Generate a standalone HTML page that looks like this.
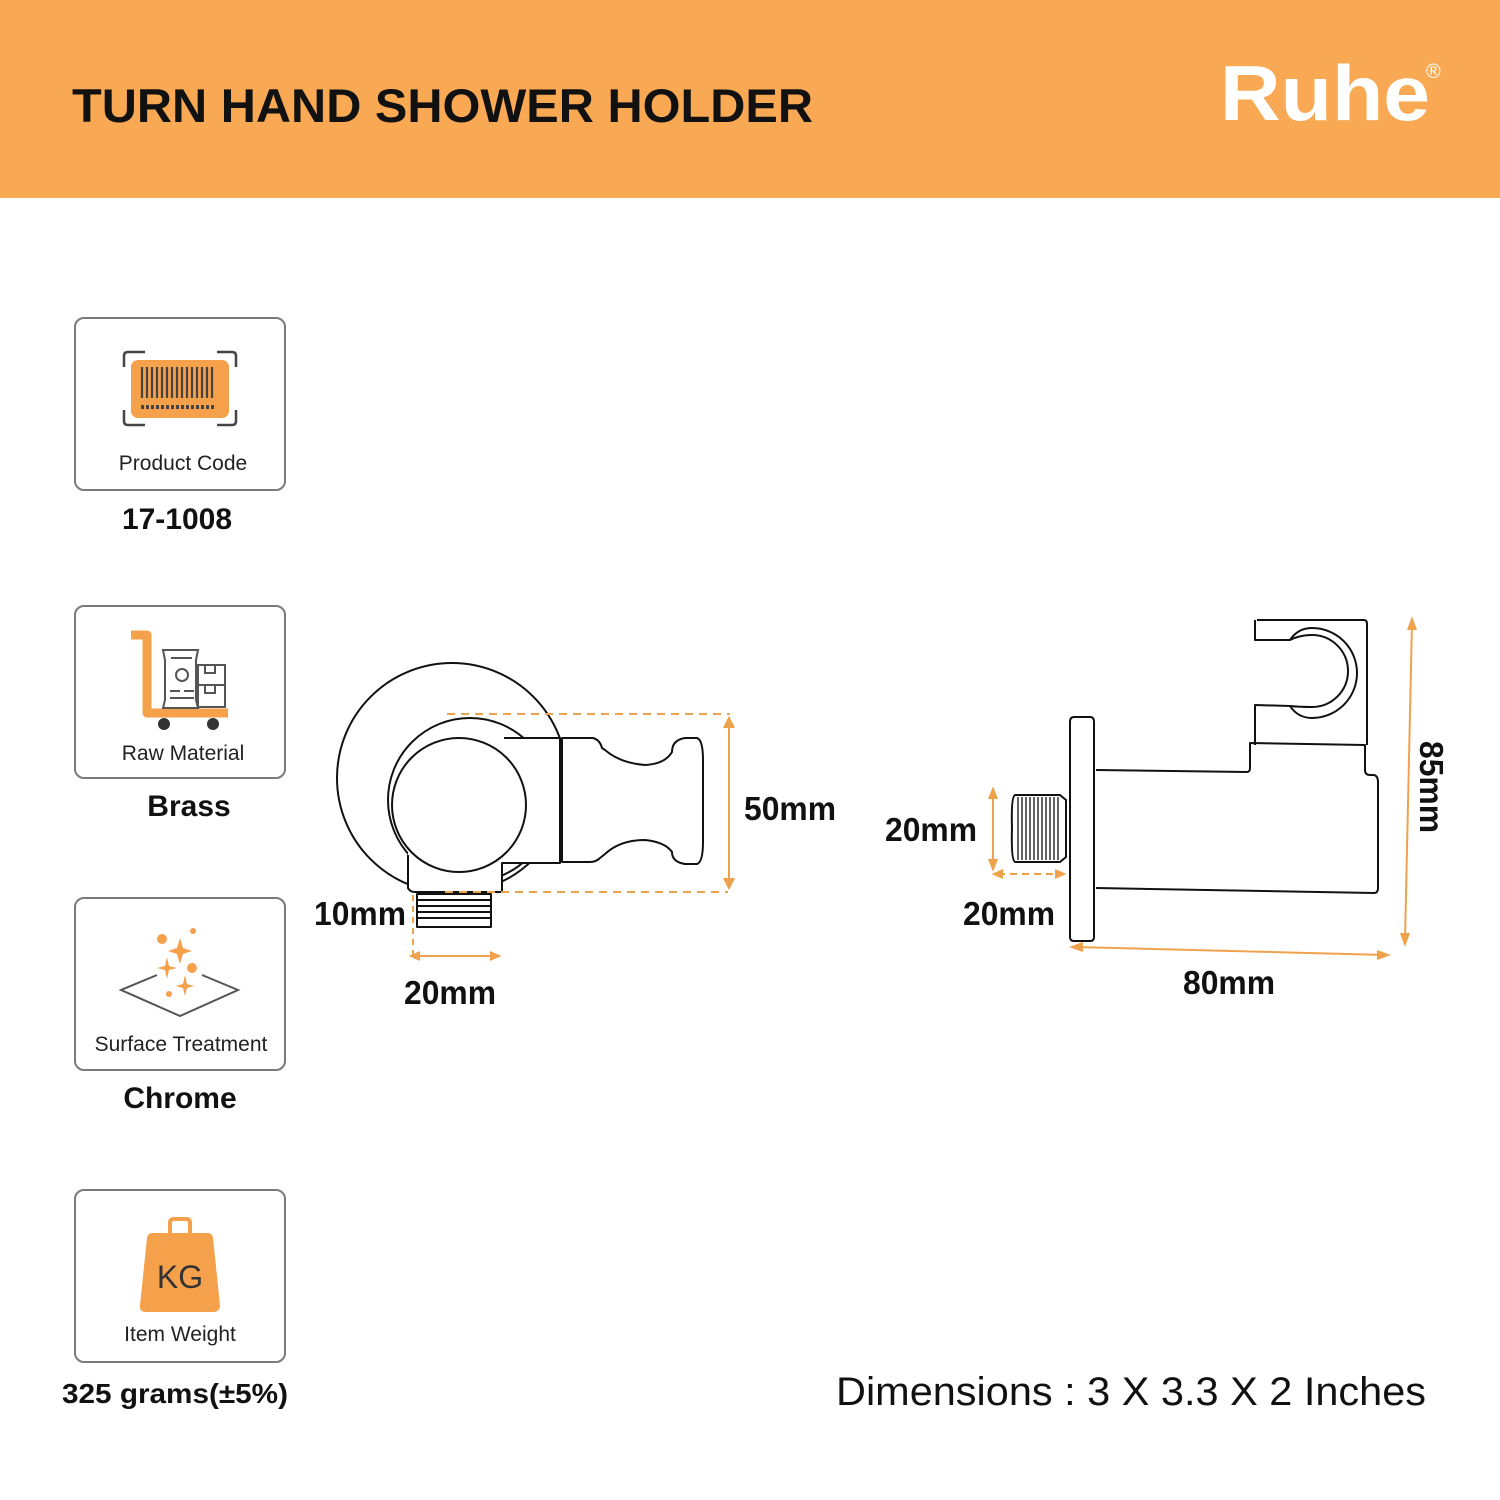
<!DOCTYPE html>
<html><head><meta charset="utf-8"><style>html,body{margin:0;padding:0;background:#fff}svg{display:block}</style></head>
<body>
<svg width="1500" height="1500" viewBox="0 0 1500 1500" xmlns="http://www.w3.org/2000/svg" font-family="'Liberation Sans', sans-serif">
<rect x="0" y="0" width="1500" height="198" fill="#F9A953"/>
<text x="72" y="122" font-size="47" font-weight="bold" fill="#111" textLength="741" lengthAdjust="spacingAndGlyphs">TURN HAND SHOWER HOLDER</text>
<text x="1220" y="120" font-size="78" font-weight="bold" fill="#fff" textLength="210" lengthAdjust="spacingAndGlyphs">Ruhe</text>
<text x="1426" y="78" font-size="20" fill="#fff">®</text>

<g fill="none" stroke="#7a7a7a" stroke-width="2">
<rect x="75" y="318" width="210" height="172" rx="9"/>
<rect x="75" y="606" width="210" height="172" rx="9"/>
<rect x="75" y="898" width="210" height="172" rx="9"/>
<rect x="75" y="1190" width="210" height="172" rx="9"/>
</g>
<g font-size="21" fill="#222" text-anchor="middle">
<text x="183" y="470">Product Code</text>
<text x="183" y="760">Raw Material</text>
<text x="181" y="1051">Surface Treatment</text>
<text x="180" y="1341">Item Weight</text>
</g>
<g font-size="30" font-weight="bold" fill="#111" text-anchor="middle">
<text x="177" y="529">17-1008</text>
<text x="189" y="816">Brass</text>
<text x="180" y="1108">Chrome</text>
<text x="175" y="1403" font-size="28" textLength="226" lengthAdjust="spacingAndGlyphs">325 grams(±5%)</text>
</g>
<rect x="131" y="360" width="98" height="58" rx="7" fill="#F5A04A"/>
<g stroke="#444" stroke-width="2.5" fill="none">
<path d="M124 367 V356 Q124 352 128 352 H145 M217 352 H232 Q236 352 236 356 V367 M124 410 V421 Q124 425 128 425 H145 M217 425 H232 Q236 425 236 421 V410"/>
<path d="M142 367V398M147 367V398M152 367V398M157 367V398M162 367V398M167 367V398M172 367V398M177 367V398M182 367V398M187 367V398M192 367V398M197 367V398M202 367V398M207 367V398M212 367V398" stroke-width="2.2"/>
<path d="M141 407H216" stroke-dasharray="3 2" stroke-width="4"/>
</g>
<path d="M131 635 H147 V713 H228" fill="none" stroke="#F5A04A" stroke-width="9" stroke-linejoin="round"/>
<circle cx="164" cy="724" r="6" fill="#333"/><circle cx="213" cy="724" r="6" fill="#333"/>
<g fill="none" stroke="#555" stroke-width="2">
<path d="M163 650 H198 L196 660 V700 L198 708 H163 L165 700 V660 Z"/>
<circle cx="182" cy="675" r="6"/><path d="M171 658H192M170 691H180M184 691H194M170 698H194"/>
<rect x="198" y="665" width="27" height="20"/><rect x="198" y="685" width="27" height="22"/>
<path d="M205 665v8h10v-8M205 685v8h10v-8"/>
</g>
<path d="M157 975 L121 990 L180 1016 L238 990 L202 975" fill="none" stroke="#555" stroke-width="2"/>
<g fill="#F5A04A">
<circle cx="162" cy="939" r="5"/><circle cx="193" cy="931" r="3"/><circle cx="192" cy="968" r="5"/><circle cx="169" cy="994" r="3"/>
<path d="M180 938 L183 948 L192 951 L183 954 L180 964 L177 954 L168 951 L177 948Z"/>
<path d="M167 957 L169 966 L177 968 L169 970 L167 979 L165 970 L157 968 L165 966Z"/>
<path d="M185 975 L187 984 L194 986 L187 988 L185 996 L183 988 L176 986 L183 984Z"/>
</g>
<path d="M170 1233 V1223 Q170 1219 174 1219 H186 Q190 1219 190 1223 V1233" fill="none" stroke="#F5A04A" stroke-width="4"/>
<path d="M152 1233 H208 Q212 1233 213 1238 L220 1305 Q220 1312 213 1312 H146 Q139 1312 140 1305 L147 1238 Q148 1233 152 1233Z" fill="#F5A04A"/>
<text x="180" y="1288" font-size="32" fill="#333" text-anchor="middle">KG</text>

<!-- left drawing -->
<g fill="#fff" stroke="#111" stroke-width="2" stroke-linejoin="round">
<circle cx="452" cy="778" r="115"/>
<circle cx="470" cy="800" r="82"/>
<path d="M408 855 V888 Q410 892 415 892 H502 V863 H560 V738 H504 L470 760 L408 820Z" stroke="none"/>
<path d="M408 855 V888 Q410 892 415 892 H502 V863 H560 V738 H504" fill="none"/>
<circle cx="459" cy="805" r="67"/>
<path d="M562 738 H593 Q600 740 602 748 L605 750 Q620 763 645 765 Q665 764 672 752 Q672 740 685 738 H697 Q703 740 703 760 V842 Q703 862 697 864 H685 Q672 862 672 852 Q665 842 645 840 Q620 840 605 854 L600 858 Q596 862 590 862 H562 Z"/>
<path d="M417 894 H491 V927 H417 Z"/>
<path d="M418 900H490M418 906H490M418 912H490M418 918H490" fill="none"/>
</g>
<g stroke="#EFA24C" stroke-width="2" fill="none">
<path d="M447 714 H730 M445 892 H728" stroke-dasharray="8 6"/>
<path d="M413 895 V958" stroke-dasharray="6 5"/>
<path d="M729 720 V886"/><path d="M724 728 L729 718 L734 728 M724 878 L729 888 L734 878" fill="#EFA24C"/>
<path d="M413 956 H497"/><path d="M420 952 L411 956 L420 960 M490 952 L499 956 L490 960" fill="#EFA24C"/>
</g>

<!-- right drawing -->
<g fill="none" stroke="#111" stroke-width="2" stroke-linejoin="round">
<path d="M1074 717 H1090 Q1094 717 1094 722 V937 Q1094 941 1090 941 H1074 Q1070 941 1070 937 V722 Q1070 717 1074 717Z"/>
<path d="M1096 770 L1247 772 Q1250 772 1250 768 V743 L1365 745 V770 Q1365 775 1370 775 H1374 Q1378 776 1378 782 V888 Q1378 893 1374 893 L1096 888"/>
<path d="M1257 620 H1364 Q1367 620 1367 624 V745 M1255 620 V640 L1290 640 Q1298 628 1312 628 A45 45 0 0 1 1312 718 Q1298 718 1290 706 L1255 705 V745"/>
<path d="M1290 640 Q1300 635 1312 635 A36 36 0 0 1 1312 707 Q1300 707 1290 706"/>
<path d="M1015 795 H1060 L1066 800 V857 L1060 862 H1015 Q1011 860 1012 828 Q1011 797 1015 795Z"/>
<path d="M1018 797V860M1022 797V860M1026 797V860M1030 797V860M1034 797V860M1038 797V860M1042 797V860M1046 797V860M1050 797V860M1054 797V860M1058 797V860" stroke-width="1.3"/>
</g>
<g stroke="#EFA24C" stroke-width="2" fill="none">
<path d="M993 792 V866"/><path d="M989 799 L993 789 L997 799 M989 859 L993 869 L997 859" fill="#EFA24C"/>
<path d="M998 874 H1060" stroke-dasharray="7 5"/><path d="M1003 870 L994 874 L1003 878 M1055 870 L1064 874 L1055 878" fill="#EFA24C"/>
<path d="M1412 622 L1405 940"/><path d="M1408 630 L1412 619 L1416 630 M1401 933 L1405 944 L1409 933" fill="#EFA24C"/>
<path d="M1075 947 L1386 955"/><path d="M1083 943 L1072 947 L1083 951 M1377 951 L1388 955 L1377 959" fill="#EFA24C"/>
</g>

<g font-size="33" font-weight="bold" fill="#111">
<text x="744" y="820" textLength="92" lengthAdjust="spacingAndGlyphs">50mm</text>
<text x="314" y="925" textLength="92" lengthAdjust="spacingAndGlyphs">10mm</text>
<text x="404" y="1004" textLength="92" lengthAdjust="spacingAndGlyphs">20mm</text>
<text x="885" y="841" textLength="92" lengthAdjust="spacingAndGlyphs">20mm</text>
<text x="963" y="925" textLength="92" lengthAdjust="spacingAndGlyphs">20mm</text>
<text x="1183" y="994" textLength="92" lengthAdjust="spacingAndGlyphs">80mm</text>
<text transform="translate(1420 741) rotate(90)" textLength="92" lengthAdjust="spacingAndGlyphs">85mm</text>
</g>
<text x="836" y="1405" font-size="40" fill="#111" textLength="590" lengthAdjust="spacingAndGlyphs">Dimensions : 3 X 3.3 X 2 Inches</text>
</svg>
</body></html>
